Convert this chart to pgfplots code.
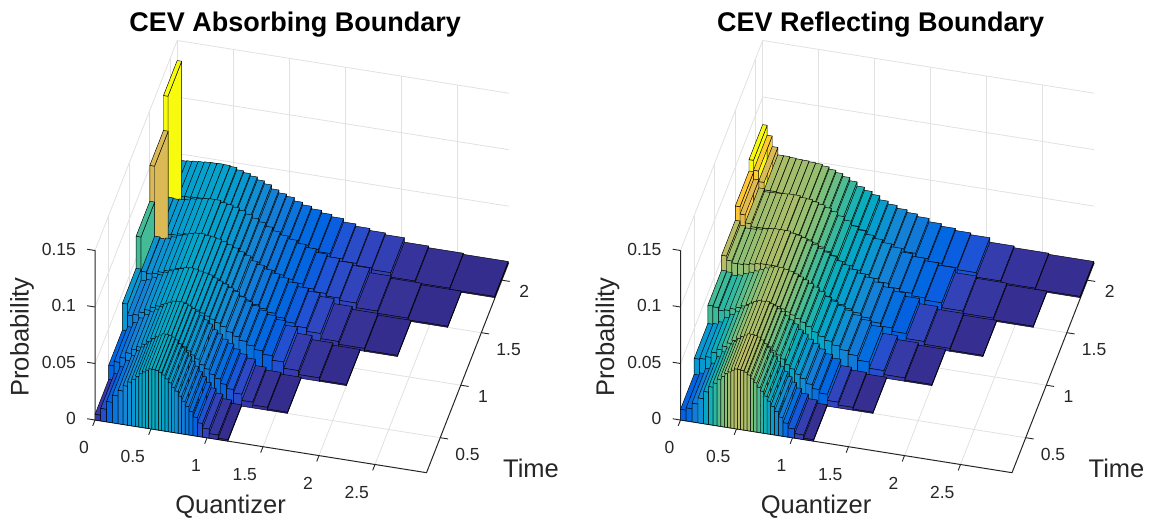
\documentclass[border=0pt]{standalone}
\usepackage{fontspec}
\setmainfont{Liberation Sans}
\usepackage{pgfplots}
\pgfplotsset{compat=1.18}
\definecolor{axc}{HTML}{262626}
\definecolor{grc}{HTML}{E1E1E1}
\pgfplotsset{colormap={parula}{
rgb=(.2081,.1663,.5292) rgb=(.2116,.1898,.5777) rgb=(.2123,.2138,.6270) rgb=(.2081,.2386,.6771)
rgb=(.1959,.2645,.7279) rgb=(.1707,.2919,.7792) rgb=(.1253,.3242,.8303) rgb=(.0591,.3598,.8683)
rgb=(.0117,.3875,.8820) rgb=(.0060,.4086,.8828) rgb=(.0165,.4266,.8786) rgb=(.0329,.4430,.8720)
rgb=(.0498,.4586,.8641) rgb=(.0629,.4737,.8554) rgb=(.0723,.4887,.8467) rgb=(.0779,.5040,.8384)
rgb=(.0793,.5200,.8312) rgb=(.0749,.5375,.8263) rgb=(.0641,.5570,.8240) rgb=(.0488,.5772,.8228)
rgb=(.0343,.5966,.8199) rgb=(.0265,.6137,.8135) rgb=(.0239,.6287,.8038) rgb=(.0231,.6418,.7913)
rgb=(.0228,.6535,.7768) rgb=(.0267,.6642,.7607) rgb=(.0384,.6743,.7436) rgb=(.0590,.6838,.7254)
rgb=(.0843,.6928,.7062) rgb=(.1133,.7015,.6859) rgb=(.1453,.7098,.6646) rgb=(.1801,.7177,.6424)
rgb=(.2178,.7250,.6193) rgb=(.2586,.7317,.5954) rgb=(.3022,.7376,.5712) rgb=(.3482,.7424,.5473)
rgb=(.3953,.7459,.5244) rgb=(.4420,.7481,.5033) rgb=(.4871,.7491,.4840) rgb=(.5300,.7491,.4661)
rgb=(.5709,.7485,.4494) rgb=(.6099,.7473,.4337) rgb=(.6473,.7456,.4188) rgb=(.6834,.7435,.4044)
rgb=(.7184,.7411,.3905) rgb=(.7525,.7384,.3768) rgb=(.7858,.7356,.3633) rgb=(.8185,.7327,.3498)
rgb=(.8507,.7299,.3360) rgb=(.8824,.7274,.3217) rgb=(.9139,.7258,.3063) rgb=(.9450,.7261,.2886)
rgb=(.9739,.7314,.2666) rgb=(.9938,.7455,.2403) rgb=(.9990,.7653,.2164) rgb=(.9955,.7861,.1967)
rgb=(.9880,.8066,.1794) rgb=(.9789,.8271,.1633) rgb=(.9697,.8481,.1475) rgb=(.9626,.8705,.1309)
rgb=(.9589,.8949,.1132) rgb=(.9598,.9218,.0948) rgb=(.9661,.9514,.0755) rgb=(.9763,.9831,.0538)}}
% bar widths along the quantizer axis, one list per time row
\def\WA{.05,.053,.053,.05,.045,.04,.036,.033,.031,.03,.029,.029,.029,.029,.029,.029,.029,.029,.029,.03,.03,.03,.032,.034,.036,.04,.045,.06,.08,.088}
\def\WB{.048,.051,.052,.051,.047,.044,.041,.039,.037,.037,.035,.035,.035,.035,.035,.035,.036,.037,.038,.040,.044,.044,.049,.051,.056,.062,.074,.096,.133,.179}
\def\WC{.045,.049,.052,.051,.050,.047,.046,.045,.044,.044,.043,.043,.043,.043,.043,.044,.045,.047,.049,.052,.057,.059,.065,.069,.077,.085,.103,.132,.186,.242}
\def\WD{.0435,.048,.051,.052,.052,.05,.05,.049,.049,.05,.049,.049,.05,.05,.051,.052,.053,.055,.058,.062,.068,.07,.079,.083,.094,.103,.126,.162,.23,.295}
\def\WE{.042,.046,.051,.052,.053,.053,.053,.054,.054,.055,.055,.055,.056,.057,.058,.059,.061,.063,.066,.071,.079,.081,.092,.097,.11,.12,.149,.19,.271,.357}
\def\WF{.04,.045,.05,.053,.055,.056,.057,.058,.059,.06,.06,.061,.062,.063,.064,.066,.068,.07,.074,.08,.089,.092,.104,.11,.125,.137,.17,.217,.31,.401}
% probabilities, absorbing boundary
\def\LA{.005,.011,.018,.0245,.0295,.0345,.0385,.0415,.0445,.0475,.0495,.0515,.053,.053,.0525,.0515,.0495,.0465,.0435,.04,.037,.033,.029,.025,.021,.0165,.012,.008,.004,.0012}
\def\LB{.0176,.0215,.026,.031,.035,.038,.041,.044,.047,.049,.0505,.051,.051,.05,.0485,.0465,.0445,.0415,.0385,.0355,.031,.028,.024,.021,.017,.0135,.0105,.005,.0025,.001}
\def\LC{.0414,.0316,.033,.036,.039,.042,.044,.046,.0475,.049,.0495,.049,.048,.047,.046,.044,.042,.04,.0375,.035,.031,.028,.025,.022,.019,.016,.012,.0065,.003,.001}
\def\LD{.0697,.0395,.0385,.0395,.0415,.0435,.045,.047,.048,.0485,.0475,.047,.046,.0445,.0425,.0405,.038,.0355,.0315,.029,.026,.0235,.021,.018,.015,.0125,.0095,.005,.0025,.001}
\def\LE{.1014,.043,.0425,.043,.0435,.045,.046,.047,.0475,.0475,.046,.045,.0435,.0415,.039,.0365,.034,.031,.028,.0255,.023,.0205,.018,.015,.0128,.0106,.0086,.0045,.0025,.001}
\def\LF{.1323,.0445,.045,.0455,.046,.0465,.0468,.047,.0468,.046,.044,.0425,.0405,.038,.0355,.032,.0295,.0275,.0245,.0222,.02,.0178,.0158,.0128,.0108,.009,.0074,.0035,.002,.001}
% probabilities, reflecting boundary
\def\RA{.0095,.0115,.0165,.022,.0285,.0335,.0375,.0415,.0445,.0475,.0495,.0515,.053,.053,.0525,.0515,.0495,.0465,.0435,.04,.037,.033,.029,.025,.021,.0165,.012,.008,.004,.0012}
\def\RB{.0235,.0243,.0267,.0315,.035,.0385,.042,.045,.0475,.0495,.051,.051,.0515,.05,.0485,.0465,.0445,.0415,.0385,.0355,.031,.028,.024,.021,.017,.0135,.0105,.005,.0025,.001}
\def\RC{.0397,.039,.0369,.038,.04,.042,.044,.046,.048,.0495,.0505,.0505,.0495,.0485,.047,.045,.043,.0405,.038,.035,.031,.028,.025,.022,.019,.016,.012,.0065,.003,.001}
\def\RD{.0529,.0493,.0476,.0477,.0485,.0495,.0505,.051,.051,.051,.0495,.0485,.047,.045,.0425,.04,.0375,.035,.0315,.029,.026,.0235,.021,.018,.015,.0125,.0095,.005,.0025,.001}
\def\RE{.0655,.059,.052,.0495,.0498,.05,.0505,.0508,.0508,.0495,.049,.0475,.046,.044,.0415,.0385,.0355,.0315,.0288,.026,.0235,.021,.0185,.0153,.013,.0108,.0088,.0045,.0025,.001}
\def\RF{.0756,.0668,.0575,.051,.051,.0505,.05,.0498,.0492,.0488,.0475,.0455,.0435,.041,.0382,.0345,.0318,.0292,.0255,.023,.0205,.0182,.016,.013,.0108,.009,.0074,.0035,.002,.001}
% collect the three visible faces of each bar of a row, painter's order
\newcommand\addrow[4]{%
 \gdef\qcur{0}%
 \foreach \w [count=\i from 0] in #3 {%
  \pgfmathparse{{#4}[\i]}\let\p\pgfmathresult
  \let\qL\qcur
  \pgfmathsetmacro\qR{\qL+\w}%
  \xdef\faces{\unexpanded\expandafter{\faces}
   (\qL,#1,\p)[\p] (\qR,#1,\p)[\p] (\qR,#2,\p)[\p] (\qL,#2,\p)[\p]
   (\qL,#1,0)[\p] (\qR,#1,0)[\p] (\qR,#1,\p)[\p] (\qL,#1,\p)[\p]
   (\qR,#1,0)[\p] (\qR,#2,0)[\p] (\qR,#2,\p)[\p] (\qR,#1,\p)[\p]}%
  \xdef\qcur{\qR}%
 }}
\newcommand\plotfaces[1]{\addplot3[patch,patch type=rectangle,shader=faceted,faceted color=black,line width=.45pt,point meta=explicit] coordinates {#1};}
\newcommand\boxlines{%
 \addplot3[axc,line width=1pt,no marks] coordinates {(0,.1667,.15)(0,.1667,0)(2.96,.1667,0)(2.96,2.1667,0)};
 \pgfplotsinvokeforeach{0,.05,.1,.15}{\addplot3[axc,line width=.9pt,no marks] coordinates {(0,.1667,##1)(-.07,.1667,##1)};}
 \pgfplotsinvokeforeach{0,.5,1,1.5,2,2.5}{\addplot3[axc,line width=.9pt,no marks] coordinates {(##1,.1667,0)(##1,.11,0)};}
 \pgfplotsinvokeforeach{.5,1,1.5,2}{\addplot3[axc,line width=.9pt,no marks] coordinates {(2.96,##1,0)(3.03,##1,0)};}
}
\pgfplotsset{cevaxis/.style={
 x={(112pt,-17.8pt)},y={(41.1pt,105pt)},z={(0pt,1130pt)},
 xmin=0,xmax=2.96,ymin=.1667,ymax=2.1667,zmin=0,zmax=.15,
 anchor=origin,clip=false,
 axis line style={draw=none},
 grid=major,grid style={grc,line width=.8pt},
 xtick={0,.5,1,1.5,2,2.5},xticklabels={0,0.5,1,1.5,2,2.5},
 ytick={.5,1,1.5,2},yticklabels={0.5,1,1.5,2},
 ztick={0,.05,.1,.15},zticklabels={0,0.05,0.1,0.15},
 xtick pos=left,ytick pos=left,ztick pos=left,
 tick style={draw=none},major tick length=7pt,tick align=outside,
 tick label style={font=\fontsize{17.5}{20}\selectfont,text=axc},
 xticklabel style={anchor=east,yshift=-21pt},
 yticklabel style={xshift=7pt},
 zticklabel style={anchor=east,xshift=-13pt,yshift=8pt},
 /pgf/number format/assume math mode=true,
 label style={font=\fontsize{25.5}{28}\selectfont,text=axc},
 title style={font=\fontsize{27}{30}\selectfont\bfseries,text=black},
 xlabel={Quantizer},ylabel={Time},zlabel={Probability},
 xlabel style={at={(axis cs:1.426,-.421,0)},anchor=center,rotate=0},
 ylabel style={at={(axis cs:3.823,.358,0)},anchor=center,rotate=0},
 zlabel style={at={(axis cs:-.887,.807,0)},anchor=center,rotate=0},
 title style={at={(axis cs:1.5,.947,.2954)},anchor=center},
 point meta min=0,
}}
\begin{document}
\begin{tikzpicture}[x=1pt,y=1pt]
\path[use as bounding box] (0,0) rectangle (1153,522);
\gdef\faces{}
\addrow{1.8333}{2.1667}{\WF}{\LF}
\addrow{1.5}{1.8333}{\WE}{\LE}
\addrow{1.1667}{1.5}{\WD}{\LD}
\addrow{.8333}{1.1667}{\WC}{\LC}
\addrow{.5}{.8333}{\WB}{\LB}
\addrow{.1667}{.5}{\WA}{\LA}
\global\let\facesL\faces
\gdef\faces{}
\addrow{1.8333}{2.1667}{\WF}{\RF}
\addrow{1.5}{1.8333}{\WE}{\RE}
\addrow{1.1667}{1.5}{\WD}{\RD}
\addrow{.8333}{1.1667}{\WC}{\RC}
\addrow{.5}{.8333}{\WB}{\RB}
\addrow{.1667}{.5}{\WA}{\RA}
\global\let\facesR\faces
\begin{axis}[cevaxis,at={(95pt,102pt)},title={CEV Absorbing Boundary},point meta max=.1323]
\boxlines
\expandafter\plotfaces\expandafter{\facesL}
\end{axis}
\begin{axis}[cevaxis,at={(680.5pt,102pt)},title={CEV Reflecting Boundary},point meta max=.0756]
\boxlines
\expandafter\plotfaces\expandafter{\facesR}
\end{axis}
\end{tikzpicture}
\end{document}
